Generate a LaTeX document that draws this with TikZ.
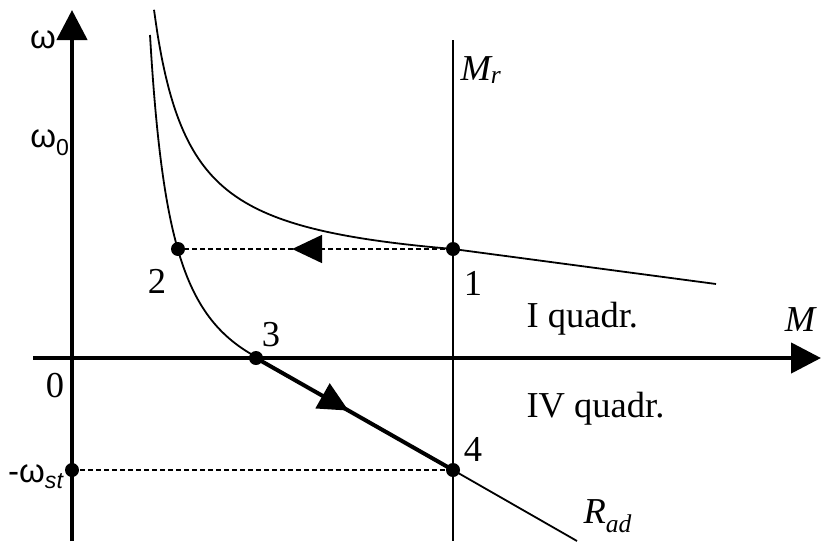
\documentclass[tikz,border=0pt]{standalone}
\usepackage{fontspec}
\setmainfont{Liberation Serif}
\newfontfamily\omfont{Liberation Sans}
\usetikzlibrary{arrows.meta,decorations.markings}

\begin{document}
\begin{tikzpicture}[
  x=1pt, y=-1pt,
  axis/.style={line width=4.5pt, -{Triangle[length=30pt,width=30pt]}},
  thin line/.style={line width=1.8pt},
  guide/.style={line width=1.8pt, dash pattern=on 5pt off 3pt},
  dot/.style={circle, fill=black, inner sep=0pt, minimum size=14pt},
  num/.style={font=\fontsize{36.5}{36.5}\selectfont},
  om/.style={font=\fontsize{33}{33}\selectfont\omfont},
  midarrow/.style={postaction={decorate, decoration={markings,
    mark=at position #1 with {\arrow{Triangle[length=30pt,width=28pt]}}}}},
]
\useasboundingbox (0,0) rectangle (821,541);

% Axes
\coordinate (xs) at (33,358);
\coordinate (xe) at (821,358);
\coordinate (ys) at (72,541);
\coordinate (ye) at (72,10);
\draw[axis] (xs) -- (xe);
\draw[axis] (ys) -- (ye);

% M_r line
\coordinate (mrtop) at (453,40);
\coordinate (mrbot) at (453,541);
\draw[thin line] (mrtop) -- (mrbot);

% Points
\node[dot] (p1) at (453,249) {};
\node[dot] (p2) at (178,249) {};
\node[dot] (p3) at (256,358) {};
\node[dot] (p4) at (453,470) {};
\node[dot] (pst) at (72,470) {};

% Natural characteristic
\draw[thin line] plot[domain=154:453, samples=80, smooth]
  (\x, {277.4 - 9500/(\x - 118.5)});
\coordinate (natend) at (716,284);
\draw[thin line] (p1.center) -- (natend);

% Rheostat characteristic
\draw[thin line] plot[domain=150:256, samples=80, smooth]
  (\x, {426.6 - 9007/(\x - 127)});
\coordinate (radend) at (577,541);
\draw[thin line] (p4.center) -- (radend);
\draw[line width=4pt, midarrow=0.47] (p3.center) -- (p4.center);

% Dashed
\draw[guide, midarrow=0.585] (p1.center) -- (p2.center);
\draw[guide] (pst.center) -- (p4.center);

% Labels
\node[om] (lom) at (43,40) {ω};
\node[om] (lom0) at (50,143) {ω\textsubscript{0}};
\node[om, anchor=east] (lomst) at (67,477) {-ω\textsubscript{\itshape st}};
\node[num] (l0) at (55,386) {0};
\node[num] (l1) at (473,283) {1};
\node[num] (l2) at (157,281) {2};
\node[num] (l3) at (271,335) {3};
\node[num] (l4) at (473,449) {4};
\node[num, anchor=west] (lq1) at (523,319) {I quadr.};
\node[num, anchor=west] (lq4) at (523,409) {IV quadr.};
\node[num] (lm) at (800,320) {\itshape M};
\node[num, anchor=west] (lmr) at (457,70) {\itshape M\textsubscript{r}};
\node[num, anchor=west] (lrad) at (580,516) {\itshape R\textsubscript{ad}};
\end{tikzpicture}
\end{document}
